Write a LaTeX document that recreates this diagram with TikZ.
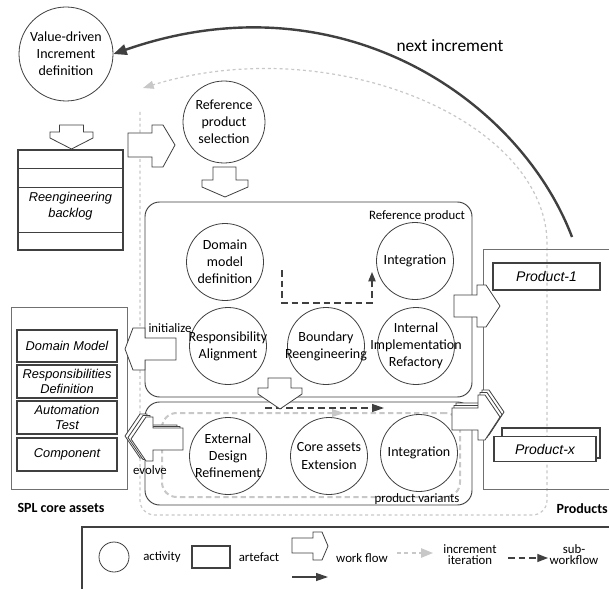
\documentclass[tikz,border=0pt]{standalone}
\usepackage{fontspec}
\setmainfont{Carlito}
\newfontfamily\arialf{Liberation Sans}
\usetikzlibrary{arrows.meta}
\definecolor{linec}{HTML}{404040}
\definecolor{dotc}{HTML}{C8C8C8}
\definecolor{boxc}{HTML}{707070}
\begin{document}
\begin{tikzpicture}[x=0.75pt,y=-0.75pt,
  act/.style={circle,draw=linec,line width=0.6pt,minimum size=57.75pt,inner sep=0pt},
  actt/.style={align=center,inner sep=0pt,font=\fontsize{10.5}{12.8}\selectfont},
  art/.style={draw=linec,line width=1.1pt,align=center,inner sep=0pt,font=\arialf\itshape\fontsize{9.6}{11.2}\selectfont},
  blk/.style={draw=linec,line width=0.6pt,fill=white,line join=miter},
  lbl/.style={font=\fontsize{9.6}{11}\selectfont,inner sep=1pt},
  grp/.style={draw=linec,line width=0.7pt,rounded corners=11pt,inner sep=0pt},
  iter/.style={draw=dotc,line width=0.9pt,dash pattern=on 2.2pt off 2.2pt},
  subw/.style={draw=linec,line width=0.9pt,dash pattern=on 5pt off 3pt},
]
\clip (0,0) rectangle (609,588);
\useasboundingbox (0,0) rectangle (609,588);
\fill[white] (0,0) rectangle (609,588);

% increment iteration loop (background)
\coordinate (loopA) at (140,112);
\coordinate (loopB) at (143,88);
\draw[iter,rounded corners=11pt,-{Triangle[length=8pt,width=6pt,fill=dotc]}]
  (loopA) -- (140,515) -- (547,515) -- (547,260)
  .. controls (548,120) and (330,30) .. (loopB);

% groups
\node[grp,minimum width=245.25pt,minimum height=146.25pt] (refbox) at (308.5,299.5) {};
\node[grp,minimum width=245.25pt,minimum height=77.25pt] (varbox) at (308.5,453.5) {};
\node[draw=dotc,line width=1.5pt,dash pattern=on 4pt off 2.5pt,rounded corners=11pt,minimum width=223.5pt,minimum height=63pt,inner sep=0pt] (loopbox) at (311,455) {};
\coordinate (gB) at (344,413);
\fill[dotc] (gB) -- ++(-12,-4) -- ++(0,8) -- cycle;

% SPL core assets
\node[draw=boxc,line width=0.5pt,minimum width=87pt,minimum height=136.5pt,inner sep=0pt] (spl) at (69,398) {};
\node[art,minimum width=75pt,minimum height=24pt] (dm) at (67,346) {Domain Model};
\node[art,minimum width=75pt,minimum height=24.75pt] (rd) at (67,381.5) {Responsibilities\\Definition};
\node[art,minimum width=75pt,minimum height=24.75pt] (at) at (67,417.5) {Automation\\Test};
\node[art,minimum width=75pt,minimum height=24.75pt] (comp) at (67,454.5) {Component};
\node[font=\bfseries\fontsize{10.5}{12}\selectfont] (spllbl) at (61,508) {SPL core assets};

% Products
\node[draw=boxc,line width=0.5pt,minimum width=117.75pt,minimum height=180pt,inner sep=0pt] (prods) at (561.5,369) {};
\node[art,font=\arialf\itshape\fontsize{10.5}{12}\selectfont,minimum width=80.25pt,minimum height=20.25pt] (p1) at (546.5,276.5) {Product-1};
\node[art,minimum width=73.5pt,minimum height=22.5pt] (pxb) at (551,443) {};
\node[art,fill=white,font=\arialf\itshape\fontsize{10.5}{12}\selectfont,minimum width=76.5pt,minimum height=18.75pt] (px) at (545,449) {Product-x};
\node[font=\bfseries\fontsize{10.5}{12}\selectfont,anchor=east,inner sep=0pt] (prodlbl) at (608,509) {Products};

% backlog
\node[draw=linec,line width=1.1pt,minimum width=78.75pt,minimum height=75pt,inner sep=0pt] (backlog) at (70.5,200) {};
\draw[draw=linec,line width=0.7pt] (18,168) -- (123,168) (18,187) -- (123,187) (18,232) -- (123,232);
\node[font=\arialf\itshape\fontsize{9.6}{12}\selectfont,align=center] (backlogtxt) at (70.5,206) {Reengineering\\backlog};

% activities
\node[act,minimum size=70.5pt,label={[actt]center:{Value-driven\\Increment\\definition}}] (vd) at (66,54) {};
\node[act,minimum size=61.5pt,label={[actt]center:{Reference\\product\\selection}}] (rs) at (224,122) {};
\node[act,label={[actt]center:{Domain\\model\\definition}}] (dmd) at (225,262) {};
\node[act,label={[actt]center:{Integration}}] (int1) at (415,261) {};
\node[act,label={[actt]center:{Responsibility\\Alignment}}] (ra) at (228,346) {};
\node[act,label={[actt]center:{Boundary\\Reengineering}}] (br) at (326,346) {};
\node[act,label={[actt]center:{Internal\\Implementation\\Refactory}}] (iir) at (416,346) {};
\node[act,label={[actt]center:{External\\Design\\Refinement}}] (edr) at (228,456) {};
\node[act,label={[actt]center:{Core assets\\Extension}}] (cae) at (329,456) {};
\node[act,label={[actt]center:{Integration}}] (int2) at (419,453) {};

\node[lbl] (reflbl) at (417,216) {Reference product};
\node[lbl] (varlbl) at (417,499) {product variants};

% sub-workflows
\coordinate (s1) at (282,270);
\coordinate (s2) at (372,272);
\draw[subw,-{Triangle[length=7pt,width=5.5pt]}] (s1) -- (282,303) -- (372,303) -- (s2);
\coordinate (s3) at (265,408);
\coordinate (s4) at (384,408);
\draw[subw,-{Triangle[length=9pt,width=6pt]}] (s3) -- (s4);

% next increment
\coordinate (ni) at (572,237);
\draw[linec,line width=1.8pt,-{Triangle[length=10pt,width=8pt]}] (ni) .. controls (520,100) and (340,-25) .. (vd.east);
\node[font=\fontsize{13}{15}\selectfont] (nilbl) at (450,46) {next increment};

% block arrows (work flow)
\draw[blk] (59.5,125) -- (83.5,125) -- (83.5,132) -- (93,132) -- (93,138) -- (71.5,149) -- (50,138) -- (50,132) -- (59.5,132) -- cycle;
\draw[blk] (128,133) -- (152,133) -- (152,125) -- (163,125) -- (175,145) -- (163,167) -- (152,167) -- (152,157) -- (128,157) -- cycle;
\draw[blk] (213,167) -- (236,167) -- (236,180) -- (248,180) -- (248,187) -- (225,197) -- (202,187) -- (202,180) -- (213,180) -- cycle;
\draw[blk] (268,378) -- (291,378) -- (291,388) -- (302,388) -- (302,394) -- (280,409) -- (258,394) -- (258,388) -- (268,388) -- cycle;
\draw[blk] (176,338) -- (145,338) -- (145,328) -- (133,328) -- (125,349) -- (133,370) -- (145,370) -- (145,360) -- (176,360) -- cycle;
\foreach \dx/\dy in {-6/-3,-3/-1.5,0/0}{
  \draw[blk,shift={(\dx,\dy)}] (183,428) -- (153,428) -- (153,417) -- (146,417) -- (131,439) -- (146,461) -- (153,461) -- (153,450) -- (183,450) -- cycle;
}
\draw[blk] (454,295) -- (477,295) -- (477,285) -- (486,285) -- (500,306) -- (486,327) -- (477,327) -- (477,317) -- (454,317) -- cycle;
\foreach \dx/\dy in {4/-5,2/-2.5,0/0}{
  \draw[blk,shift={(\dx,\dy)}] (452,408) -- (478,408) -- (478,395) -- (485,395) -- (500,417) -- (485,440) -- (478,440) -- (478,430) -- (452,430) -- cycle;
}
\node[lbl] (initlbl) at (170,328) {initialize};
\node[lbl] (evlbl) at (150,470) {evolve};

% legend
\draw[linec,line width=0.9pt] (82,600) -- (82,527) -- (620,527);
\node[act,minimum size=22.5pt] (lgc) at (114,557) {};
\node[lbl] (lgct) at (162,557) {activity};
\node[art,minimum width=28.5pt,minimum height=16.5pt] (lgr) at (211,557) {};
\node[lbl] (lgrt) at (259,557) {artefact};
\draw[blk] (292,538) -- (313,538) -- (313,532) -- (322,532) -- (328,546) -- (322,560) -- (313,560) -- (313,553) -- (292,553) -- cycle;
\node[lbl] (lgwt) at (362,558) {work flow};
\coordinate (li1) at (397,553);
\coordinate (li2) at (433,553);
\draw[draw=dotc,line width=1.3pt,dash pattern=on 3pt off 2.5pt,-{Triangle[length=9pt,width=7pt,fill=dotc]}] (li1) -- (li2);
\node[lbl,align=center,font=\fontsize{9.6}{8.3}\selectfont] (lgit) at (470,555) {increment\\iteration};
\coordinate (ls1) at (508,558);
\coordinate (ls2) at (548,558);
\draw[subw,-{Triangle[length=8pt,width=6pt]}] (ls1) -- (ls2);
\node[lbl,align=center,font=\fontsize{9.6}{8.3}\selectfont] (lgst) at (574,555) {sub-\\workflow};
\coordinate (ln1) at (292,577);
\coordinate (ln2) at (328,577);
\draw[linec,line width=0.9pt,-{Triangle[length=9pt,width=6pt]}] (ln1) -- (ln2);
\end{tikzpicture}
\end{document}
